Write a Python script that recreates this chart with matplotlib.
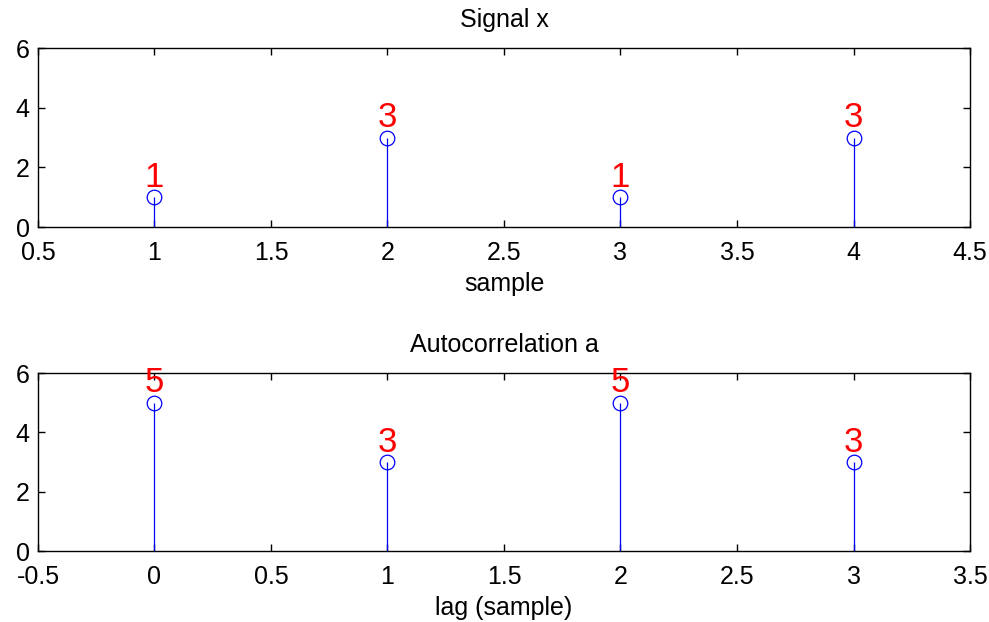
import matplotlib.pyplot as plt
import numpy as np

plt.rcParams['font.family'] = ['Liberation Sans', 'DejaVu Sans']

# signal x and its autocorrelation a
sample = [1, 2, 3, 4]
x_vals = [1, 3, 1, 3]
lag = [0, 1, 2, 3]
a_vals = [5, 3, 5, 3]

fig = plt.figure(figsize=(9.89, 6.22), dpi=100)
ax1 = fig.add_axes([0.0384, 0.635, 0.9424, 0.2878])
ax2 = fig.add_axes([0.0384, 0.1141, 0.9424, 0.286])


def dessiner(ax, xs, ys, xlim, titre, xlab):
    ml, sl, bl = ax.stem(xs, ys, basefmt='k-')
    plt.setp(sl, color='blue', linewidth=0.9)
    plt.setp(ml, marker='o', markersize=10.5, markerfacecolor='none',
             markeredgecolor='blue', markeredgewidth=0.9)
    plt.setp(bl, linewidth=0)
    for xi, yi in zip(xs, ys):
        ax.text(xi, yi + 0.35, str(yi), color='red', fontsize=25,
                ha='center', va='baseline')
    ticks = np.arange(xlim[0], xlim[1] + 0.01, 0.5)
    ax.set_xlim(xlim)
    ax.set_ylim(0, 6)
    ax.set_xticks(ticks)
    ax.set_xticklabels(['%g' % t for t in ticks])
    ax.set_yticks([0, 2, 4, 6])
    ax.tick_params(direction='in', top=True, right=True, length=5,
                   labelsize=18, width=1)
    ax.tick_params(axis='x', pad=10)
    ax.tick_params(axis='y', pad=6)
    for s in ax.spines.values():
        s.set_linewidth(1)
    ax.set_title(titre, fontsize=18, pad=15)
    ax.set_xlabel(xlab, fontsize=18, labelpad=5)


dessiner(ax1, sample, x_vals, (0.5, 4.5), 'Signal x', 'sample')
dessiner(ax2, lag, a_vals, (-0.5, 3.5), 'Autocorrelation a', 'lag (sample)')

fig.savefig('out.png', dpi=100)
